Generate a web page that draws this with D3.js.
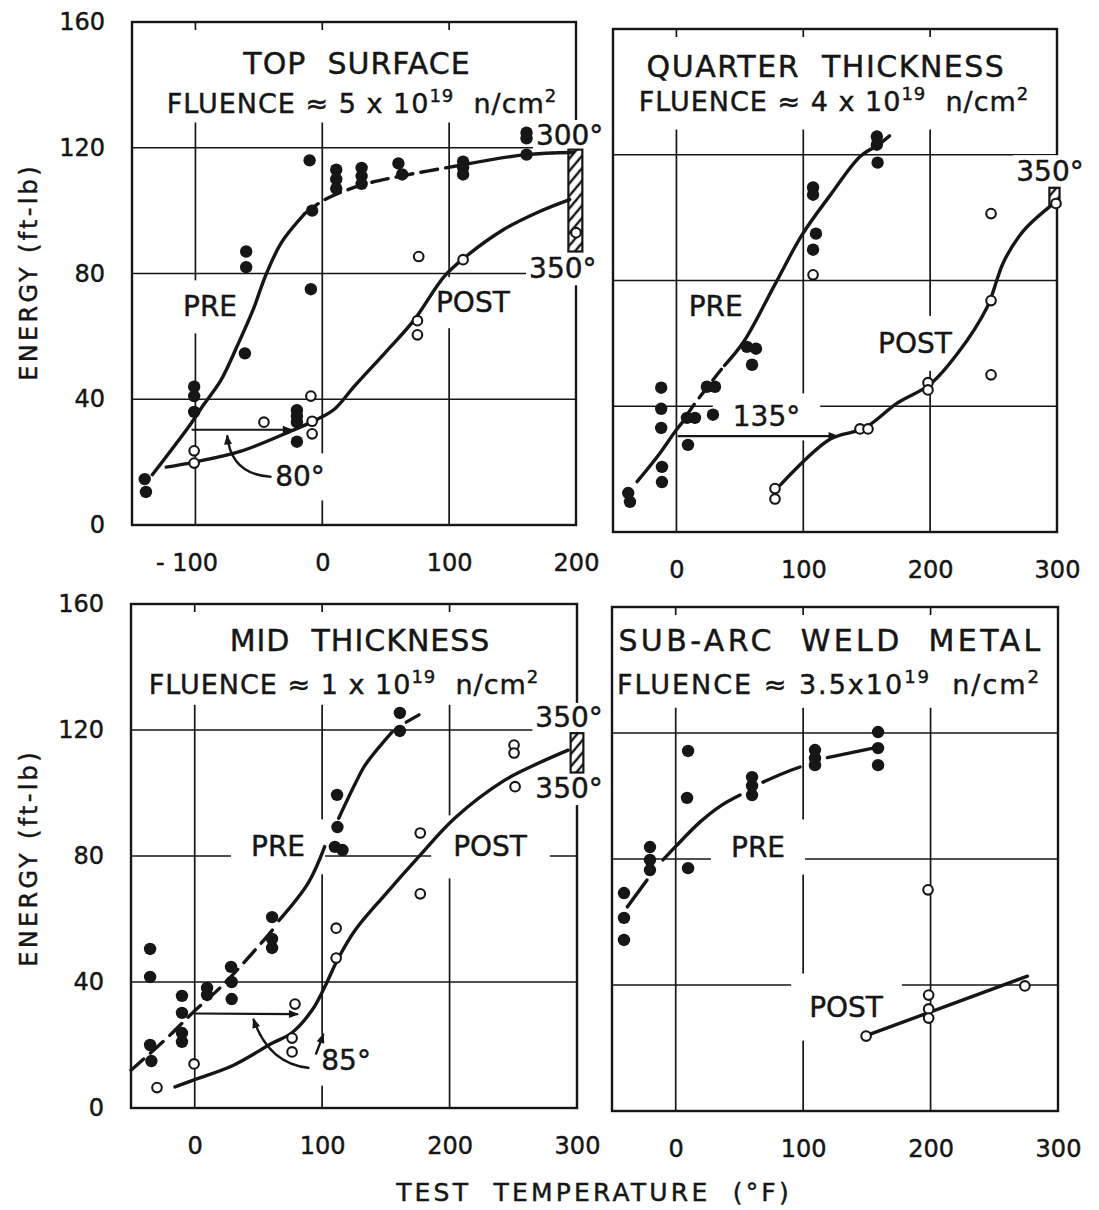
<!DOCTYPE html>
<html>
<head>
<meta charset="utf-8">
<script src="https://cdn.jsdelivr.net/npm/d3@7"></script>
<style>
  body { margin: 0; background: #fff; }
  text { font-family: "DejaVu Sans", sans-serif; fill: #161616; stroke: #161616; stroke-width: 0.45px; }
</style>
</head>
<body>
<svg id="chart"></svg>
<script>
// ---- ticks ----
var yTicks = [0, 40, 80, 120, 160];
var gridE = [40, 80, 120];
var xTicksTop = [-100, 0, 100, 200];
var xTicksRest = [0, 100, 200, 300];

// ---- TOP SURFACE (fluence ~5e19) : [temp F, energy ft-lb] ----
var topPre = [[-140,14.6],[-139,10.5],[-101,44],[-101,41],[-101,36],[-61,54.6],[-60,87],[-60,82],
  [-20,36.5],[-20,34.6],[-20,32.7],[-20,26.5],[-10,116],[-8,100],[-9,75],[11,113],[11,110],[11,107],
  [31,113.6],[31,111],[31,108.5],[60,115],[63,111.5],[111,115.6],[111,113.7],[111,111.5],
  [161,124.8],[161,123],[161,117.8]];
var topPost = [[-101,23.6],[-101,19.7],[-46,32.7],[-9,41],[-8,33],[-8,29],[75,65],[75,60.5],
  [76,85.4],[111,84.4],[200,93]];
var topPreCurve = [[-134,16],[-104,32],[-94,38],[-80,46],[-67,57],[-55,68],[-44,80],[-32,90],[-14,99]];
var topPreDash = [[-14,99],[2,103.5],[30,108],[62,111],[110,114.5]];
var topPreTail = [[110,114.5],[160,117.8],[198,118.5]];
var topPostCurve = [[-123,18.4],[-101,20],[-64,23.5],[-24,30],[-4,33.6],[10,37],[25,44],[50,55],
  [72,65],[96,79],[112,85],[143,94],[170,99.5],[195,103.5]];

// ---- QUARTER THICKNESS (fluence ~4e19) ----
var quarterPre = [[-38,12.4],[-36.6,9.6],[-12,45.9],[-12,39.2],[-12,33.1],[-11.4,20.7],[-11.4,15.9],
  [8.3,36.3],[14.6,36.3],[9.1,27.7],[24,46.2],[30.4,46.2],[28.8,37.3],[55.6,58.9],[62.7,58.3],
  [59.6,53.2],[107.7,109.6],[107.7,107.3],[110,94.9],[107.7,89.8],[158,125.8],[158,123.2],[158.6,117.5]];
var quarterPost = [[77.7,10.5],[77.7,13.8],[107.7,81.8],[144.7,32.8],[151,32.8],[198.3,47.5],
  [198.3,45.2],[248,101.3],[248,73.6],[248,50],[299.2,104.5]];
var quarterPreCurve = [[-31,16],[-15,24],[0,32.5],[6,35.5]];
var quarterPreDash = [[8,37],[13,40],[30,49],[38,53]];
var quarterPreTail = [[38,53],[53,60.5],[78,79],[99,94.5],[121,107],[145,119.5],[157,122.5]];
var quarterPreTick = [[162,124],[168,126]];
var quarterPostCurve = [[82,15],[121,29.5],[148,33],[174,41],[200,47],[222,57],[245,71.6],
  [258,86],[274,96],[298,104.7]];

// ---- MID THICKNESS (fluence ~1e19) ----
var midPre = [[-35,50.5],[-35,41.6],[-35,20],[-34,14.9],[-10,35.6],[-10,30.2],[-10,23.8],[-10,21],
  [9.7,38.1],[9.7,35.9],[28.5,44.8],[29,40],[29,34.6],[60.7,60.6],[60.7,53.7],[60.7,50.8],
  [111.7,99.4],[112,89.2],[110,82.9],[116,81.9],[161,125.4],[161,119.7]];
var midPost = [[-29.6,6.5],[-0.5,14],[78.7,33],[76.4,22.2],[76.4,17.8],[111,57.1],[111,47.6],
  [177,87.3],[177,68],[250.6,115.2],[250.6,112.7],[251.4,102]];
var midPreDash = [[-50,12],[-21,22.5],[-1,30.5],[21,38.6],[53,52.7],[63,57.5]];
var midPreCurve = [[66,59.5],[89,71.4],[102,83]];
var midPreTail = [[113,92],[126,103],[134,109],[155,119.4]];
var midPreTick = [[166,122.5],[176,124.8]];
var midPostCurve = [[-15.5,6.7],[0,9],[30,13.5],[61,20.6],[76,23.8],[92,31],[102,38.4],[112,47],
  [126,56.5],[150,68],[175,79.4],[204,92],[243,104],[270,109.5],[293,113.6]];

// ---- SUB-ARC WELD METAL (fluence ~3.5e19) ----
var weldPre = [[9.7,114.3],[8.9,99.4],[9.7,77.1],[-40.6,69.2],[-40.6,61.3],[-40.6,54.3],
  [-20.2,83.8],[-20.2,79.7],[-20.2,76.5],[59.9,106],[59.9,103.2],[59.9,100.3],
  [109.3,114.6],[109.3,112],[109.3,109.8],[158.8,120.3],[158.8,115.2],[158.8,109.8]];
var weldPost = [[149.4,23.8],[198,70.2],[198.5,36.8],[198.5,32.4],[198.5,29.5],[274,39.7]];
var weldPreCurve = [[-38,64.8],[-22.5,73.3]];
var weldPreMid = [[-10,79.7],[0,84],[19,91.7],[35,96.8],[50.5,100.3]];
var weldPreTail = [[68.5,104.4],[85,107.3],[97.6,109.2]];
var weldPreEnd = [[119,112.2],[155,115.2]];
var weldPostCurve = [[150,24],[276,42.8]];

var ink = "#161616";

var panels = [
  { left: 132, top: 22, width: 444, height: 503, xDomain: [-150, 200], xTicks: xTicksTop, yLabels: true,
    title: "TOP  SURFACE", fluence: "5 x 10",
    head: {ty: 52, tdx: 3, tls: 1, fy: 91, fdx: 8, fls: 1},
    pre: topPre, post: topPost,
    curves: [{pts: topPreCurve}, {pts: topPreDash, dash: "17,8"}, {pts: topPreTail}, {pts: topPostCurve}],
    hatch: [[194, 205, 87, 119.4]],
    shifts: [{from: [-103, 30.3], to: [-24, 30.3]}],
    pointers: [{from: [-40, 15.3], ctrl: [-72, 16], to: [-75, 28.5]}],
    labels: [{t: "PRE", at: [-88.5, 69.4], pad: [18, 13]}, {t: "POST", at: [118.7, 70.7], pad: [14, 12]},
             {t: "80°", at: [-17.6, 15.3], pad: [6, 10]}, {t: "300°", at: [195, 123.9], pad: [3, 2]},
             {t: "350°", at: [189.6, 81.5], pad: [3, 3]}] },
  { left: 613, top: 29, width: 444, height: 503, xDomain: [-50, 300], xTicks: xTicksRest, yLabels: false,
    title: "QUARTER  THICKNESS", fluence: "4 x 10",
    head: {ty: 48, tdx: -9, tls: 1.5, fy: 82, fdx: -1, fls: 1},
    pre: quarterPre, post: quarterPost,
    curves: [{pts: quarterPreCurve}, {pts: quarterPreDash, dash: "14,8"}, {pts: quarterPreTail},
             {pts: quarterPreTick}, {pts: quarterPostCurve}],
    hatch: [[294, 302, 104, 109.5]],
    shifts: [{from: [1, 30.5], to: [127, 30.5]}],
    pointers: [],
    labels: [{t: "PRE", at: [31, 71.7], pad: [8, 8]}, {t: "POST", at: [188, 60], pad: [14, 14]},
             {t: "135°", at: [71, 36.6], pad: [20, 10]}, {t: "350°", at: [294.5, 114.6], pad: [3, 3]}] },
  { left: 131, top: 604, width: 446, height: 504, xDomain: [-50, 300], xTicks: xTicksRest, yLabels: true,
    title: "MID  THICKNESS", fluence: "1 x 10",
    head: {ty: 47, tdx: 6, tls: 1, fy: 90, fdx: -10, fls: 1},
    pre: midPre, post: midPost,
    curves: [{pts: midPreDash, dash: "17,9"}, {pts: midPreCurve}, {pts: midPreTail}, {pts: midPreTick},
             {pts: midPostCurve}],
    hatch: [[295, 305, 106.5, 119]],
    shifts: [{from: [0, 30], to: [81, 29.8]}],
    pointers: [{from: [90, 12.7], ctrl: [58, 14], to: [46, 28.3]}, {from: [95, 17], ctrl: [98, 20], to: [101, 23.5]}],
    labels: [{t: "PRE", at: [65.4, 82.9], pad: [20, 14]}, {t: "POST", at: [231.8, 82.9], pad: [22, 18]},
             {t: "350°", at: [293.8, 124], pad: [3, 1]}, {t: "350°", at: [293.8, 101.4], pad: [3, 3]},
             {t: "85°", at: [118.8, 15.2], pad: [6, 12]}] },
  { left: 612, top: 607, width: 446, height: 504, xDomain: [-50, 300], xTicks: xTicksRest, yLabels: false,
    title: "SUB-ARC  WELD  METAL", fluence: "3.5x10",
    head: {ty: 44, tdx: -4, tls: 3.4, fy: 87, fdx: -6, fls: 2},
    pre: weldPre, post: weldPost,
    curves: [{pts: weldPreCurve}, {pts: weldPreMid}, {pts: weldPreTail}, {pts: weldPreEnd}, {pts: weldPostCurve}],
    hatch: [], shifts: [], pointers: [],
    labels: [{t: "PRE", at: [64.6, 83.8], pad: [20, 14]}, {t: "POST", at: [133.7, 33], pad: [18, 20]}] }
];

var svg = d3.select("#chart").attr("width", 1099).attr("height", 1210);

var defs = svg.append("defs");
var pat = defs.append("pattern").attr("id", "hatch")
  .attr("patternUnits", "userSpaceOnUse").attr("width", 8).attr("height", 8)
  .attr("patternTransform", "rotate(40)");
pat.append("rect").attr("width", 8).attr("height", 8).attr("fill", "#fff");
pat.append("line").attr("x1", 2).attr("y1", 0).attr("x2", 2).attr("y2", 8)
  .attr("stroke", ink).attr("stroke-width", 2.4);

defs.append("marker").attr("id", "arrow").attr("viewBox", "0 0 10 10")
  .attr("refX", 9).attr("refY", 5).attr("markerWidth", 14).attr("markerHeight", 10)
  .attr("markerUnits", "userSpaceOnUse").attr("orient", "auto")
  .append("path").attr("d", "M0,1 L10,5 L0,9 Z").attr("fill", ink);

panels.forEach(drawPanel);

// axis titles
[272, 858].forEach(function(cy) {
  svg.append("text").attr("transform", "translate(29," + cy + ") rotate(-90)")
    .attr("text-anchor", "middle").attr("dominant-baseline", "central")
    .style("font-size", "24px").style("letter-spacing", "3.3px")
    .text("ENERGY (ft-lb)");
});
svg.append("text").attr("x", 594).attr("y", 1201).attr("text-anchor", "middle")
  .attr("xml:space", "preserve").style("white-space", "pre")
  .style("font-size", "25px").style("letter-spacing", "3.2px")
  .text("TEST  TEMPERATURE  (°F)");

function drawPanel(p) {
  var x = d3.scaleLinear().domain(p.xDomain).range([p.left, p.left + p.width]);
  var y = d3.scaleLinear().domain([0, 160]).range([p.top + p.height, p.top]);

  var g = svg.append("g");
  var gridL = g.append("g"), boxL = g.append("g"), markL = g.append("g"), textL = g.append("g");

  // grid
  gridL.selectAll(".hg").data(gridE).enter().append("line")
    .attr("x1", p.left).attr("x2", p.left + p.width)
    .attr("y1", function(d) { return y(d); }).attr("y2", function(d) { return y(d); })
    .attr("stroke", ink).attr("stroke-width", 1.7);
  var inner = p.xTicks.filter(function(t) { return t > p.xDomain[0] && t < p.xDomain[1]; });
  gridL.selectAll(".vg").data(inner).enter().append("line")
    .attr("x1", function(d) { return x(d); }).attr("x2", function(d) { return x(d); })
    .attr("y1", y(0)).attr("y2", y(128))
    .attr("stroke", ink).attr("stroke-width", 1.7);
  gridL.selectAll(".tt").data(inner).enter().append("line")
    .attr("x1", function(d) { return x(d); }).attr("x2", function(d) { return x(d); })
    .attr("y1", y(160)).attr("y2", y(160) + 8)
    .attr("stroke", ink).attr("stroke-width", 1.7);
  gridL.append("rect").attr("x", p.left).attr("y", p.top).attr("width", p.width).attr("height", p.height)
    .attr("fill", "none").attr("stroke", ink).attr("stroke-width", 2.4);

  // axes (labels only)
  var xa = g.append("g").attr("transform", "translate(0," + y(0) + ")")
    .call(d3.axisBottom(x).tickValues(p.xTicks).tickSize(0).tickPadding(29)
      .tickFormat(function(d) { return d < 0 ? "- " + (-d) : d; }));
  xa.select(".domain").remove();
  xa.selectAll("text").attr("xml:space", "preserve").style("white-space", "pre")
    .style("font-size", "24px").style("font-family", "DejaVu Sans").attr("fill", ink)
    .attr("dx", function(d) { return d < 0 ? -9 : 0; });
  if (p.yLabels) {
    var ya = g.append("g").attr("transform", "translate(" + p.left + ",0)")
      .call(d3.axisLeft(y).tickValues(yTicks).tickSize(0).tickPadding(27));
    ya.select(".domain").remove();
    ya.selectAll("text").style("font-size", "24px").style("font-family", "DejaVu Sans").attr("fill", ink);
  }

  // title
  var cx = p.left + p.width / 2, h = p.head;
  textL.append("text").attr("x", cx + h.tdx).attr("y", p.top + h.ty).attr("text-anchor", "middle")
    .attr("xml:space", "preserve").style("white-space", "pre")
    .style("font-size", "30px").style("letter-spacing", h.tls + "px").text(p.title);
  var fl = textL.append("text").attr("x", cx + h.fdx).attr("y", p.top + h.fy).attr("text-anchor", "middle")
    .attr("xml:space", "preserve").style("white-space", "pre").style("font-size", "27px")
    .style("letter-spacing", h.fls + "px");
  fl.append("tspan").text("FLUENCE ≈ " + p.fluence);
  fl.append("tspan").attr("dy", -11).style("font-size", "18px").text("19");
  fl.append("tspan").attr("dy", 11).text("  n/cm");
  fl.append("tspan").attr("dy", -11).style("font-size", "18px").text("2");

  // labels with white knock-out boxes
  p.labels.forEach(function(l) {
    var t = textL.append("text").attr("x", x(l.at[0])).attr("y", y(l.at[1]))
      .attr("text-anchor", "middle").attr("dominant-baseline", "central")
      .style("font-size", "28px").text(l.t);
    var b = t.node().getBBox();
    boxL.append("rect").attr("x", b.x - l.pad[0]).attr("y", b.y + 3 - l.pad[1])
      .attr("width", b.width + 2 * l.pad[0]).attr("height", b.height - 6 + 2 * l.pad[1])
      .attr("fill", "#fff");
  });

  // hatched boxes
  markL.selectAll(".hb").data(p.hatch).enter().append("rect")
    .attr("x", function(d) { return x(d[0]); }).attr("y", function(d) { return y(d[3]); })
    .attr("width", function(d) { return x(d[1]) - x(d[0]); })
    .attr("height", function(d) { return y(d[2]) - y(d[3]); })
    .attr("fill", "url(#hatch)").attr("stroke", ink).attr("stroke-width", 2.2);

  // curves
  var line = d3.line().x(function(d) { return x(d[0]); }).y(function(d) { return y(d[1]); })
    .curve(d3.curveCatmullRom.alpha(0.5));
  p.curves.forEach(function(c) {
    markL.append("path").attr("d", line(c.pts)).attr("fill", "none")
      .attr("stroke", ink).attr("stroke-width", 3.4).attr("stroke-linecap", "round")
      .attr("stroke-dasharray", c.dash || null);
  });

  // shift arrows
  p.shifts.forEach(function(s) {
    markL.append("line").attr("x1", x(s.from[0])).attr("y1", y(s.from[1]))
      .attr("x2", x(s.to[0])).attr("y2", y(s.to[1]))
      .attr("stroke", ink).attr("stroke-width", 2.2).attr("marker-end", "url(#arrow)");
  });
  p.pointers.forEach(function(s) {
    var pth = d3.path();
    pth.moveTo(x(s.from[0]), y(s.from[1]));
    pth.quadraticCurveTo(x(s.ctrl[0]), y(s.ctrl[1]), x(s.to[0]), y(s.to[1]));
    markL.append("path").attr("d", pth.toString()).attr("fill", "none")
      .attr("stroke", ink).attr("stroke-width", 2.4).attr("marker-end", "url(#arrow)");
  });

  // points
  markL.selectAll(".pre").data(p.pre).enter().append("circle")
    .attr("cx", function(d) { return x(d[0]); }).attr("cy", function(d) { return y(d[1]); })
    .attr("r", 6.2).attr("fill", ink);
  markL.selectAll(".post").data(p.post).enter().append("circle")
    .attr("cx", function(d) { return x(d[0]); }).attr("cy", function(d) { return y(d[1]); })
    .attr("r", 4.8).attr("fill", "#fff").attr("stroke", ink).attr("stroke-width", 2.1);
}
</script>
</body>
</html>
